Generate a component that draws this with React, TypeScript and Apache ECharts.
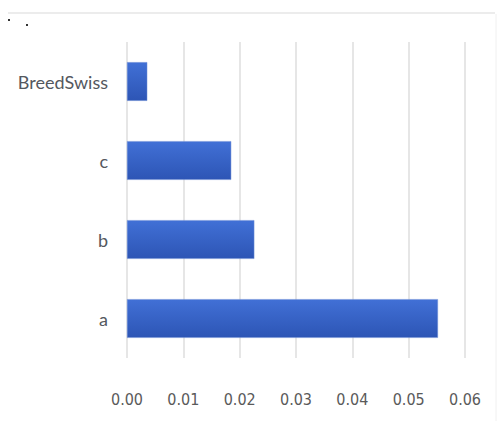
import React, { useEffect, useRef } from "react";
import * as echarts from "echarts";

const categories = ["a", "b", "c", "BreedSwiss"];
const values = [0.0552, 0.0226, 0.0185, 0.0036];
const tickMin = 0;
const tickMax = 0.06;
const tickStep = 0.01;

export default function App() {
  const ref = useRef<HTMLDivElement>(null);
  useEffect(() => {
    if (!ref.current) return;
    const chart = echarts.init(ref.current, null, { renderer: "svg" });
    chart.setOption({
      animation: false,
      backgroundColor: "#ffffff",
      grid: { left: 127, right: 37, top: 42, bottom: 63 },
      xAxis: {
        type: "value",
        min: tickMin,
        max: tickMax,
        interval: tickStep,
        axisLine: { show: false },
        axisTick: { show: false },
        splitLine: { show: true, lineStyle: { color: "#dedede", width: 1.5 } },
        axisLabel: {
          margin: 33,
          color: "#5a5a5a",
          fontSize: 16,
          fontFamily: "DejaVu Sans Condensed, Liberation Sans Narrow, Roboto, sans-serif",
          formatter: (v: number) => v.toFixed(2),
        },
      },
      yAxis: {
        type: "category",
        data: categories,
        axisLine: { show: false },
        axisTick: { show: false },
        axisLabel: {
          margin: 19,
          color: "#54585e",
          fontSize: 18,
          fontFamily: "Lato, sans-serif",
        },
      },
      series: [
        {
          type: "bar",
          data: values,
          barWidth: "49%",
          itemStyle: {
            color: new echarts.graphic.LinearGradient(0, 0, 0, 1, [
              { offset: 0, color: "#4170d6" },
              { offset: 1, color: "#2d55b5" },
            ]),
            borderColor: "#6f8fd6",
            borderWidth: 0.5,
          },
        },
      ],
      graphic: [
        { type: "line", shape: { x1: 8, y1: 13, x2: 495, y2: 13 }, style: { stroke: "#e6e6e6", lineWidth: 1.5 } },
        { type: "line", shape: { x1: 496, y1: 14, x2: 496, y2: 421 }, style: { stroke: "#f0f0f0", lineWidth: 1 } },
        { type: "rect", shape: { x: 8, y: 19, width: 2, height: 2 }, style: { fill: "#333" } },
        { type: "rect", shape: { x: 26, y: 24, width: 2, height: 2 }, style: { fill: "#333" } },
      ],
    });
    return () => chart.dispose();
  }, []);
  return <div ref={ref} style={{ width: 502, height: 421, position: "absolute", left: 0, top: 0 }} />;
}
